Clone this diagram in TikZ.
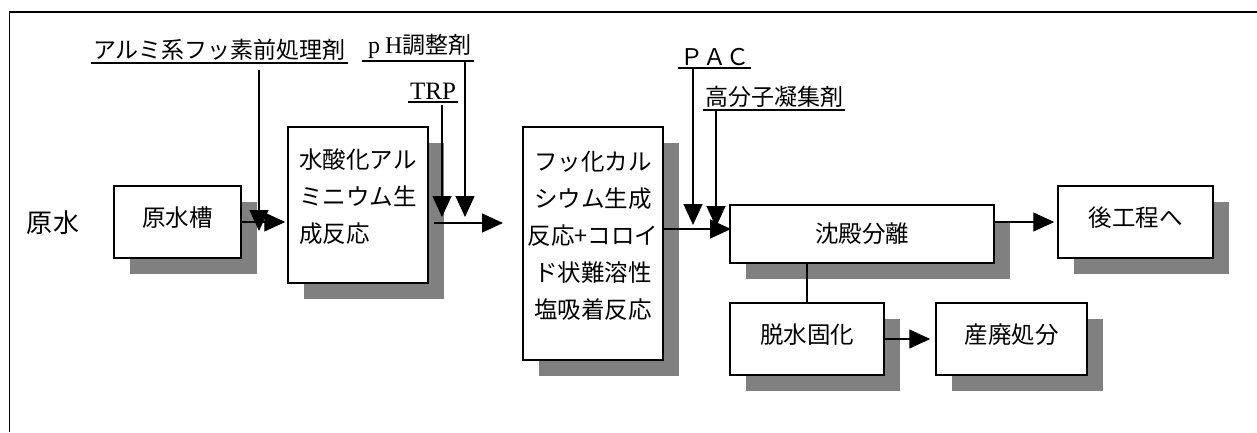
\documentclass[tikz,border=0pt]{standalone}
\usepackage{fontspec}
\newfontfamily\jpfont{Noto Sans CJK JP}
\newfontfamily\romanfont{Liberation Serif}
\usepackage{tikz}
\usetikzlibrary{arrows.meta,shadows}
\newcommand{\padbelow}{\rule[-18pt]{0pt}{18pt}}
\tikzset{
    unit/.style={
           rectangle,
           draw=black, line width=1.5pt,
           fill=white,
           inner sep=0pt,
           font=\jpfont\fontsize{23.5}{37}\selectfont,
           drop shadow={opacity=1, fill=gray, shadow xshift=16pt, shadow yshift=-16pt},
           },
}
\tikzset{
    single/.style={
           unit,
           text depth=11pt,
           },
}
\tikzset{
    feed/.style={
           inner sep=2pt,
           anchor=south west,
           font=\jpfont\fontsize{23}{28}\selectfont,
           },
}
\tikzset{
    flow/.style={
           line width=1.2pt,
           -{Triangle[length=21pt,width=19pt]},
           },
}

\begin{document}
\begin{tikzpicture}[x=1pt,y=-1pt]
\useasboundingbox (0,0) rectangle (1257,432);
\draw[line width=1.4pt](9.5,432) |- (1257,12);

% process units
\node[font=\jpfont\fontsize{26}{30}\selectfont] (raw) at (53,223) {原水};
\node[single, minimum width=127pt, minimum height=72pt] (tank) at (177.5,222) {原水槽};
\node[unit, align=left, minimum width=140pt, minimum height=156pt] (hyd) at (358,205) {水酸化アル\\ミニウム生\\成反応\padbelow};
\node[unit, align=center, minimum width=140pt, minimum height=233pt] (fca) at (593,243.5) {フッ化カル\\シウム生成\\反応+コロイ\\ド状難溶性\\塩吸着反応\padbelow};
\node[unit, minimum width=264pt, minimum height=58pt] (sed) at (862,234) {沈殿分離};
\node[single, minimum width=155pt, minimum height=72pt] (post) at (1135.5,222) {後工程へ};
\node[single, minimum width=154pt, minimum height=72pt] (dew) at (807,339) {脱水固化};
\node[single, minimum width=151pt, minimum height=72pt] (waste) at (1011.5,339) {産廃処分};

% chemicals
\node[feed] (alum) at (91,63) {アルミ系フッ素前処理剤};
\node[feed] (ph) at (362,61) {\romanfont\fontsize{24}{28}\selectfont\hspace{4pt}p\hspace{5pt}H\jpfont\fontsize{23}{28}\selectfont 調整剤};
\node[feed, font=\romanfont\fontsize{25}{28}\selectfont] (trp) at (408,102) {TRP};
\node[feed] (pac) at (678,68) {ＰＡＣ};
\node[feed] (poly) at (703,110) {高分子凝集剤};
\foreach \n in {alum,ph,trp,pac,poly}
    \draw[line width=1.3pt] (\n.south west) -- (\n.south east);

\coordinate (alumin) at (259,231);
\coordinate (trpin) at (442,217);
\coordinate (phin) at (465,217);
\coordinate (pacin) at (693,225);
\coordinate (polyin) at (716,227);
\coordinate (hydout) at (503,223);
\coordinate (sedin) at (731,229);

\draw[flow, shorten <=7pt] (alumin |- alum.south) -- (alumin);
\draw[flow, shorten <=3pt] (trpin |- trp.south) -- (trpin);
\draw[flow] (phin |- ph.south) -- (phin);
\draw[flow] (pacin |- pac.south) -- (pacin);
\draw[flow] (polyin |- poly.south) -- (polyin);

% main line
\draw[flow, shorten >=2pt] (tank.east) -- (tank.east -| hyd.west);
\draw[flow, shorten <=5pt] (hyd.east |- hydout) -- (hydout);
\draw[flow] (fca.east |- sedin) -- (sedin);
\draw[flow, shorten >=3pt] (sed.east |- post.west) -- (post.west);
\draw[line width=1.2pt] (sed.south -| dew.north) -- (dew.north);
\draw[flow, shorten >=5pt] (dew.east) -- (waste.west);
\end{tikzpicture}
\end{document}
